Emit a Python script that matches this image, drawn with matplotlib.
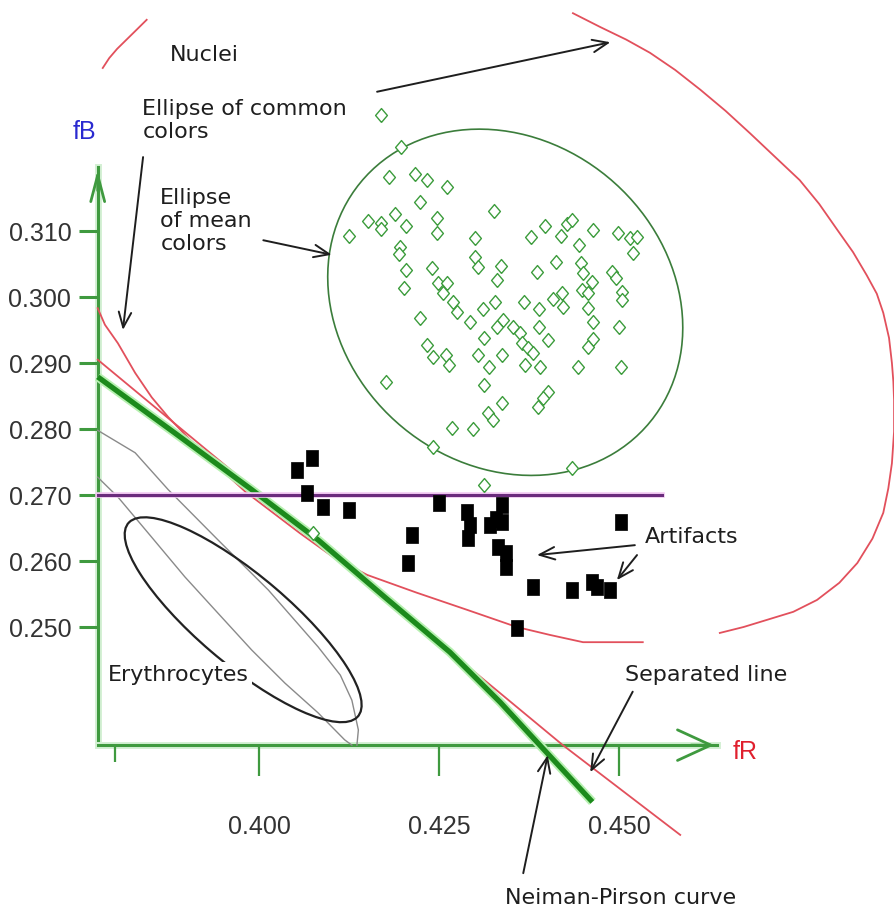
import matplotlib

matplotlib.use("Agg")

import matplotlib.pyplot as plt  # noqa: E402
import matplotlib.patheffects as pe  # noqa: E402
from matplotlib.patches import Ellipse  # noqa: E402

# ───────────────────────────── Data ───────────────────────────────────────
X_LIM = (0.36403, 0.48819)
Y_LIM = (0.20697, 0.34500)
ORIGIN_R, ORIGIN_B = 0.3776, 0.2321
R_TIP, B_TIP = 0.4636, 0.3197

R_TICKS = [0.380, 0.400, 0.425, 0.450]
R_TICK_LABELS = ["", "0.400", "0.425", "0.450"]
B_TICKS = [0.250, 0.260, 0.270, 0.280, 0.290, 0.300, 0.310]
B_TICK_LABELS = ["0.250", "0.260", "0.270", "0.280", "0.290", "0.300", "0.310"]

# nuclei (mean colours) – green diamonds
NUC_R = [0.4169, 0.4197, 0.4181, 0.4217, 0.4233, 0.4261, 0.4224, 0.4326, 0.4189, 0.4151,
         0.4169, 0.4169, 0.4204, 0.4247, 0.4247, 0.4125, 0.4300, 0.4378, 0.4397, 0.4419,
         0.4428, 0.4435, 0.4464, 0.4499, 0.4515, 0.4525, 0.4519, 0.4196, 0.4194, 0.4444,
         0.4300, 0.4304, 0.4336, 0.4204, 0.4240, 0.4386, 0.4413, 0.4447, 0.4450, 0.4490,
         0.4496, 0.4331, 0.4201, 0.4249, 0.4261, 0.4256, 0.4463, 0.4449, 0.4421, 0.4408,
         0.4422, 0.4457, 0.4504, 0.4504, 0.4457, 0.4269, 0.4275, 0.4328, 0.4368, 0.4389,
         0.4224, 0.4311, 0.4293, 0.4339, 0.4331, 0.4353, 0.4363, 0.4389, 0.4401, 0.4464,
         0.4500, 0.4313, 0.4365, 0.4374, 0.4464, 0.4457, 0.4233, 0.4242, 0.4260, 0.4264,
         0.4304, 0.4338, 0.4319, 0.4369, 0.4390, 0.4381, 0.4443, 0.4503, 0.4176, 0.4313,
         0.4401, 0.4394, 0.4388, 0.4338, 0.4318, 0.4325, 0.4268, 0.4297, 0.4242, 0.4435,
         0.4313, 0.4075]
NUC_B = [0.3276, 0.3227, 0.3182, 0.3186, 0.3177, 0.3167, 0.3144, 0.3130, 0.3126, 0.3115,
         0.3112, 0.3103, 0.3108, 0.3120, 0.3097, 0.3092, 0.3089, 0.3091, 0.3108, 0.3092,
         0.3111, 0.3117, 0.3102, 0.3097, 0.3089, 0.3091, 0.3067, 0.3076, 0.3065, 0.3079,
         0.3061, 0.3045, 0.3047, 0.3041, 0.3044, 0.3038, 0.3053, 0.3052, 0.3036, 0.3038,
         0.3029, 0.3026, 0.3014, 0.3021, 0.3021, 0.3006, 0.3023, 0.3011, 0.3006, 0.2997,
         0.2985, 0.3006, 0.3008, 0.2995, 0.2983, 0.2992, 0.2977, 0.2992, 0.2992, 0.2982,
         0.2968, 0.2982, 0.2962, 0.2965, 0.2955, 0.2955, 0.2945, 0.2955, 0.2935, 0.2962,
         0.2955, 0.2938, 0.2930, 0.2923, 0.2936, 0.2924, 0.2927, 0.2909, 0.2912, 0.2897,
         0.2912, 0.2912, 0.2894, 0.2897, 0.2894, 0.2915, 0.2894, 0.2894, 0.2871, 0.2867,
         0.2856, 0.2847, 0.2833, 0.2839, 0.2824, 0.2814, 0.2802, 0.2800, 0.2773, 0.2741,
         0.2715, 0.2642]

# artifacts – black squares
ART_R = [0.4074, 0.4053, 0.4067, 0.4089, 0.4125, 0.4250, 0.4213, 0.4207, 0.4289, 0.4293,
         0.4290, 0.4321, 0.4338, 0.4338, 0.4332, 0.4343, 0.4343, 0.4381, 0.4435, 0.4463,
         0.4469, 0.4488, 0.4503, 0.4358, 0.4329]
ART_B = [0.2756, 0.2738, 0.2703, 0.2682, 0.2677, 0.2688, 0.2639, 0.2597, 0.2674, 0.2655,
         0.2635, 0.2655, 0.2685, 0.2659, 0.2621, 0.2612, 0.2591, 0.2561, 0.2556, 0.2568,
         0.2561, 0.2556, 0.2659, 0.2498, 0.2664]

# ellipses: centre, width, height, angle (data units)
MEAN_ELLIPSE = (0.4342, 0.2992, 0.0548, 0.0467, -56.5)
ERY_ELLIPSE = (0.3978, 0.2511, 0.0433, 0.0131, -43.0)

# curves
NUC_ARC_R = [0.4436, 0.4474, 0.4510, 0.4543, 0.4578, 0.4613, 0.4648, 0.4682, 0.4716, 0.4751,
             0.4778, 0.4803, 0.4825, 0.4844, 0.4858, 0.4867, 0.4875, 0.4879, 0.4881, 0.4882,
             0.4882, 0.4879, 0.4874, 0.4867, 0.4852, 0.4831, 0.4806, 0.4775, 0.4742, 0.4706,
             0.4673, 0.4640]
NUC_ARC_B = [0.3430, 0.3409, 0.3390, 0.3370, 0.3344, 0.3314, 0.3282, 0.3248, 0.3213, 0.3177,
             0.3141, 0.3102, 0.3068, 0.3033, 0.3005, 0.2976, 0.2938, 0.2900, 0.2872, 0.2844,
             0.2796, 0.2748, 0.2710, 0.2673, 0.2634, 0.2597, 0.2567, 0.2541, 0.2523, 0.2511,
             0.2500, 0.2491]
COMMON_R = [0.3776, 0.3786, 0.3804, 0.3828, 0.3851, 0.3874, 0.3918, 0.3981, 0.4057, 0.4103,
            0.4150, 0.4219, 0.4289, 0.4358, 0.4404, 0.4450, 0.4533]
COMMON_B = [0.2983, 0.2958, 0.2930, 0.2885, 0.2848, 0.2818, 0.2768, 0.2705, 0.2642, 0.2606,
            0.2579, 0.2552, 0.2526, 0.2500, 0.2488, 0.2477, 0.2477]
SEP_R = [0.3776, 0.4422, 0.4585]
SEP_B = [0.2905, 0.2321, 0.2185]
NP_R = [0.3776, 0.3883, 0.3990, 0.4082, 0.4175, 0.4265, 0.4335, 0.4390, 0.4463]
NP_B = [0.2879, 0.2794, 0.2708, 0.2632, 0.2545, 0.2462, 0.2386, 0.2321, 0.2235]
ERY_UP_R = [0.3776, 0.3828, 0.3874, 0.3943, 0.4013, 0.4082, 0.4113, 0.4129, 0.4138, 0.4136]
ERY_UP_B = [0.2798, 0.2764, 0.2708, 0.2632, 0.2556, 0.2470, 0.2427, 0.2389, 0.2344, 0.2321]
ERY_LO_R = [0.3776, 0.3804, 0.3851, 0.3897, 0.3943, 0.3990, 0.4036, 0.4082, 0.4119, 0.4129]
ERY_LO_B = [0.2727, 0.2697, 0.2636, 0.2576, 0.2521, 0.2465, 0.2415, 0.2370, 0.2329, 0.2321]
THRESH_B = 0.270
THRESH_R = (0.3776, 0.4560)
LEGEND_ARC_R = [0.3783, 0.3792, 0.3803, 0.3817, 0.3831, 0.3844]
LEGEND_ARC_B = [0.3347, 0.3362, 0.3376, 0.3391, 0.3406, 0.3420]

# annotations: text, (r, b) of left anchor
LABELS = [
    ("Nuclei", (0.3876, 0.3367)),
    ("Ellipse of common\ncolors", (0.3838, 0.3268)),
    ("Ellipse\nof mean\ncolors", (0.3863, 0.3115)),
    ("Artifacts", (0.4536, 0.2636)),
    ("Separated line", (0.4508, 0.2427)),
    ("Neiman-Pirson curve", (0.4342, 0.2089)),
]
# arrows: (start), (tip)
ARROWS = [
    ((0.4164, 0.3311), (0.4488, 0.3386)),
    ((0.3839, 0.3212), (0.3811, 0.2950)),
    ((0.4006, 0.3086), (0.4101, 0.3064)),
    ((0.4522, 0.2624), (0.4386, 0.2609)),
    ((0.4525, 0.2609), (0.4497, 0.2571)),
    ((0.4519, 0.2402), (0.4460, 0.2280)),
    ((0.4367, 0.2127), (0.4401, 0.2306)),
]

# ───────────────────────────── Style ──────────────────────────────────────
AXIS_GREEN = "#3f9a3f"
RED = "#e2505c"
TEXT_FONT = ["DejaVu Sans"]
NARROW_FONT = ["Liberation Sans", "DejaVu Sans"]

fig = plt.figure(figsize=(8.94, 9.11), dpi=100)
ax = fig.add_axes([0, 0, 1, 1])
ax.set_xlim(*X_LIM)
ax.set_ylim(*Y_LIM)

halo = [pe.Stroke(linewidth=5, foreground="#d4f0d4"), pe.Normal()]
for side in ("top", "right"):
    ax.spines[side].set_visible(False)
ax.spines["left"].set_position(("data", ORIGIN_R))
ax.spines["bottom"].set_position(("data", ORIGIN_B))
ax.spines["left"].set_bounds(ORIGIN_B, B_TIP)
ax.spines["bottom"].set_bounds(ORIGIN_R, R_TIP)
for side in ("left", "bottom"):
    ax.spines[side].set_color(AXIS_GREEN)
    ax.spines[side].set_linewidth(2.2)
    ax.spines[side].set_path_effects(halo)
    ax.spines[side].set_zorder(1)

ax.set_xticks(R_TICKS, R_TICK_LABELS)
ax.set_yticks(B_TICKS, B_TICK_LABELS)
ax.tick_params(axis="x", direction="out", length=22, width=1.6, color=AXIS_GREEN,
               pad=28, labelsize=18, labelcolor="#333333")
ax.tick_params(axis="y", direction="out", length=14, width=2.2, color=AXIS_GREEN,
               pad=5, labelsize=18, labelcolor="#333333")
ax.xaxis.get_major_ticks()[0].tick1line.set_markersize(12)
for lab in ax.get_xticklabels() + ax.get_yticklabels():
    lab.set_family(NARROW_FONT)

# axis arrow heads
ax.annotate("", xy=(R_TIP, ORIGIN_B), xytext=(R_TIP - 0.004, ORIGIN_B),
            arrowprops=dict(arrowstyle="->,head_length=2.4,head_width=1.1",
                            color=AXIS_GREEN, lw=2))
ax.annotate("", xy=(ORIGIN_R, B_TIP), xytext=(ORIGIN_R, B_TIP - 0.004),
            arrowprops=dict(arrowstyle="->,head_length=1.9,head_width=0.5",
                            color=AXIS_GREEN, lw=2))
ax.text(0.3758, 0.3250, "fB", color="#2a2ad0", fontsize=18, family=NARROW_FONT,
        ha="center", va="center")
ax.text(0.4675, 0.2311, "fR", color="#e0202e", fontsize=18, family=NARROW_FONT,
        ha="center", va="center")

# erythrocytes: gray common-colour ellipse + black mean ellipse
ax.plot(ERY_UP_R, ERY_UP_B, color="#8a8a8a", lw=1.0, zorder=2)
ax.plot(ERY_LO_R, ERY_LO_B, color="#8a8a8a", lw=1.0, zorder=2)
cx, cy, w, h, ang = ERY_ELLIPSE
ax.add_patch(Ellipse((cx, cy), w, h, angle=ang, fill=False, ec="#222222", lw=1.6, zorder=3))

# nuclei
cx, cy, w, h, ang = MEAN_ELLIPSE
ax.add_patch(Ellipse((cx, cy), w, h, angle=ang, fill=False, ec="#3b7d3b", lw=1.2, zorder=3))
ax.plot(NUC_ARC_R, NUC_ARC_B, color=RED, lw=1.3, zorder=3)
ax.plot(LEGEND_ARC_R, LEGEND_ARC_B, color=RED, lw=1.3, zorder=3)

# boundaries
ax.plot(COMMON_R, COMMON_B, color=RED, lw=1.3, zorder=4)
ax.plot(SEP_R, SEP_B, color=RED, lw=1.3, zorder=4)
ax.plot(NP_R, NP_B, color="#1c8a1c", lw=3.8, solid_capstyle="butt", zorder=5,
        path_effects=[pe.Stroke(linewidth=6.5, foreground="#b6f0b0"), pe.Normal()])
ax.plot(THRESH_R, [THRESH_B, THRESH_B], color="#6b2c7d", lw=2.2, zorder=5,
        path_effects=[pe.Stroke(linewidth=4, foreground="#f2c8f2"), pe.Normal()])

# points
diamond = [(0, -1), (0.85, 0), (0, 1), (-0.85, 0), (0, -1)]
ax.plot(NUC_R, NUC_B, ls="none", marker=diamond, ms=10, mfc="white", mec="#3c9c3c",
        mew=1.0, zorder=6)
rect = [(-0.72, -1), (0.72, -1), (0.72, 1), (-0.72, 1), (-0.72, -1)]
ax.plot(ART_R, ART_B, ls="none", marker=rect, ms=12, mfc="black", mec="black",
        mew=0.5, zorder=7)

# labels and arrows
for text, (r, b) in LABELS:
    ax.text(r, b, text, fontsize=16, family=TEXT_FONT, color="#1e1e1e",
            ha="left", va="center", linespacing=1.2, zorder=8)
ax.text(0.3790, 0.2427, "Erythrocytes", fontsize=16, family=TEXT_FONT, color="#1e1e1e",
        ha="left", va="center", zorder=8,
        bbox=dict(boxstyle="square,pad=0.15", fc="white", ec="none"))
for start, tip in ARROWS:
    ax.annotate("", xy=tip, xytext=start,
                arrowprops=dict(arrowstyle="->,head_length=1.1,head_width=0.45",
                                color="#1e1e1e", lw=1.4, shrinkA=0, shrinkB=0),
                zorder=9)

fig.savefig("out.png", dpi=100)
